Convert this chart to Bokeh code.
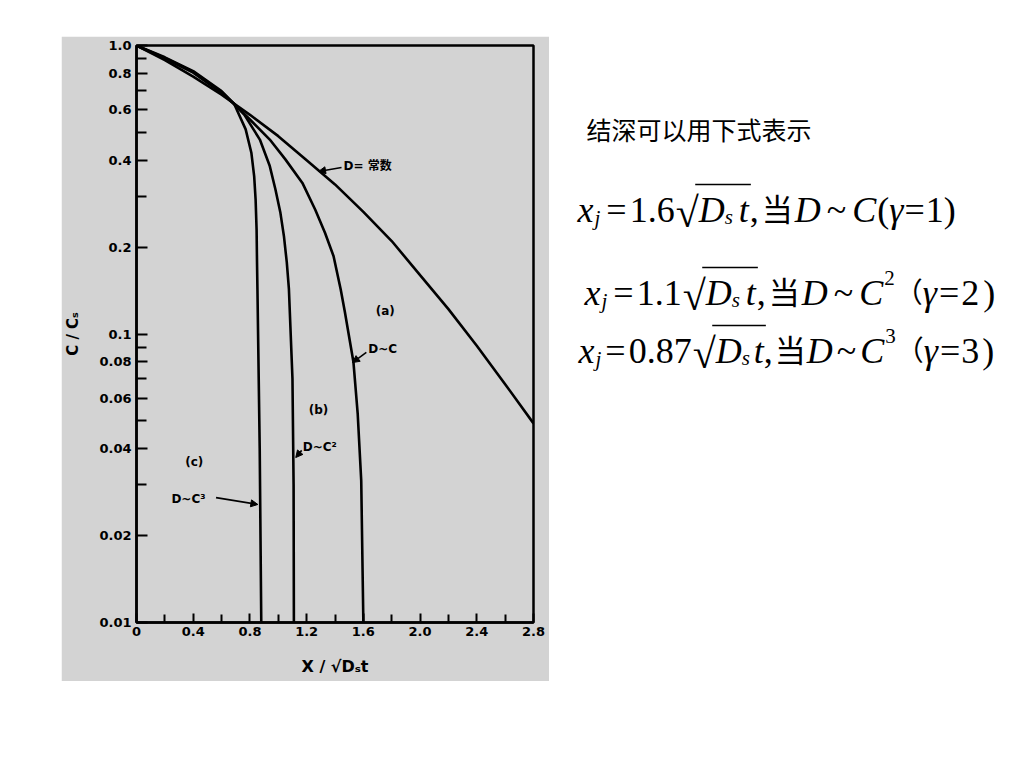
from bokeh.plotting import figure
from bokeh.layouts import row, column
from bokeh.models import (Range1d, FixedTicker, Arrow, NormalHead, Spacer,
                          ColumnDataSource, CustomJSTickFormatter)
from bokeh.core.properties import value
from bokeh.embed import file_html
from bokeh.resources import INLINE

# ---------------- data ----------------
# D = constant (erfc-like profile)
const_x = [0, 0.2, 0.4, 0.6, 0.8, 1.0, 1.2, 1.4, 1.6, 1.8, 2.0, 2.2, 2.4, 2.6, 2.8]
const_c = [1.0, 0.89, 0.78, 0.675, 0.575, 0.485, 0.40, 0.33, 0.265, 0.21, 0.16, 0.122, 0.091, 0.067, 0.049]

# (a) D ~ C
a_x = [0, 0.2, 0.4, 0.6, 0.68, 0.8, 0.94, 1.05, 1.17, 1.26, 1.33, 1.39, 1.44, 1.47, 1.53, 1.56, 1.585, 1.60]
a_c = [1.0, 0.90, 0.805, 0.685, 0.632, 0.554, 0.472, 0.403, 0.334, 0.270, 0.224, 0.186, 0.143, 0.119, 0.080, 0.053, 0.031, 0.01]

# (b) D ~ C^2
b_x = [0, 0.2, 0.4, 0.6, 0.68, 0.76, 0.87, 0.94, 0.98, 1.015, 1.04, 1.06, 1.075, 1.10, 1.108, 1.11]
b_c = [1.0, 0.905, 0.81, 0.69, 0.634, 0.576, 0.472, 0.382, 0.317, 0.263, 0.218, 0.177, 0.143, 0.07, 0.03, 0.01]

# (c) D ~ C^3
c_x = [0, 0.2, 0.4, 0.6, 0.69, 0.77, 0.81, 0.83, 0.84, 0.847, 0.85, 0.853, 0.869, 0.88]
c_c = [1.0, 0.91, 0.815, 0.695, 0.626, 0.512, 0.425, 0.352, 0.293, 0.230, 0.177, 0.143, 0.040, 0.01]

y_ticks = [0.01, 0.02, 0.04, 0.06, 0.08, 0.1, 0.2, 0.4, 0.6, 0.8, 1.0]
y_minor = [0.03, 0.05, 0.07, 0.09, 0.3, 0.5, 0.7, 0.9]
x_ticks = [0, 0.4, 0.8, 1.2, 1.6, 2.0, 2.4, 2.8]
x_minor = [0.2, 0.6, 1.0, 1.4, 1.8, 2.2, 2.6]

GREY = "#d3d3d3"
LBL_FONT = "DejaVu Sans, Noto Sans CJK SC"

# ---------------- chart ----------------
p = figure(width=488, height=645, y_axis_type="log",
           x_range=Range1d(0, 2.8), y_range=Range1d(0.01, 1.0),
           output_backend="svg", toolbar_location=None,
           min_border_left=73, min_border_right=16, min_border_top=9, min_border_bottom=59)
p.background_fill_color = GREY
p.border_fill_color = GREY
p.outline_line_color = "black"
p.outline_line_width = 2.5
p.xgrid.visible = False
p.ygrid.visible = False

for xs, cs in [(const_x, const_c), (a_x, a_c), (b_x, b_c), (c_x, c_c)]:
    p.line(xs, cs, line_color="black", line_width=2.6)

p.yaxis.ticker = FixedTicker(ticks=y_ticks, minor_ticks=y_minor)
p.xaxis.ticker = FixedTicker(ticks=x_ticks, minor_ticks=x_minor)
p.yaxis.formatter = CustomJSTickFormatter(code="return tick == 1 ? '1.0' : tick.toString();")
p.xaxis.formatter = CustomJSTickFormatter(code="return tick == 0 ? '0' : tick.toFixed(1);")

for ax in (p.xaxis[0], p.yaxis[0]):
    ax.axis_line_width = 2.5
    ax.axis_line_color = "black"
    ax.major_tick_out = 0
    ax.minor_tick_out = 0
    ax.major_tick_line_width = 2
    ax.minor_tick_line_width = 2
    ax.major_label_text_font = "DejaVu Sans"
    ax.major_label_text_font_style = "bold"
    ax.major_label_text_font_size = "13px"
    ax.major_label_text_color = "black"
    ax.axis_label_text_font = "DejaVu Sans"
    ax.axis_label_text_font_style = "bold"
    ax.axis_label_text_color = "black"

p.yaxis.major_tick_in = 11
p.yaxis.minor_tick_in = 10
p.xaxis.major_tick_in = 9
p.xaxis.minor_tick_in = 8
p.yaxis.major_label_standoff = 5
p.xaxis.major_label_standoff = 4
p.yaxis.axis_label = "C / Cₛ"
p.xaxis.axis_label = "X / √Dₛt"
p.yaxis.axis_label_text_font_size = "15px"
p.xaxis.axis_label_text_font_size = "16px"
p.yaxis.axis_label_standoff = 14
p.xaxis.axis_label_standoff = 18

# curve annotations
ann = ColumnDataSource(dict(
    x=[1.46, 1.754, 1.635, 1.284, 1.172, 0.407, 0.246],
    y=[0.381, 0.1197, 0.0884, 0.0547, 0.0407, 0.0359, 0.0267],
    t=["D= 常数", "(a)", "D~C", "(b)", "D~C²", "(c)", "D~C³"],
    align=["left", "center", "left", "center", "left", "center", "left"],
))
p.text(x="x", y="y", text="t", source=ann, text_align="align", text_baseline="middle",
       text_font=value(LBL_FONT), text_font_style="bold", text_font_size="12px",
       text_color="black")

for (xs, ys, xe, ye) in [(1.446, 0.3776, 1.284, 0.366),
                         (1.621, 0.0863, 1.523, 0.0796),
                         (1.165, 0.0395, 1.123, 0.0373),
                         (0.561, 0.0271, 0.856, 0.02565)]:
    p.add_layout(Arrow(x_start=xs, y_start=ys, x_end=xe, y_end=ye, line_width=1.6,
                       end=NormalHead(size=7, fill_color="black", line_color="black")))

# ---------------- text panel (page coordinates) ----------------
t = figure(width=459, height=645, x_range=Range1d(550, 1009), y_range=Range1d(623, 46),
           x_axis_type=None, y_axis_type=None, output_backend="svg", toolbar_location=None,
           min_border_left=0, min_border_right=0, min_border_top=9, min_border_bottom=59)
t.outline_line_color = None
t.xgrid.visible = False
t.ygrid.visible = False

SERIF = "Liberation Serif"
CJK = "Noto Sans CJK SC"

t.text(x=[587], y=[129], text=["结深可以用下式表示"], text_font=value(CJK),
       text_font_size="25px", text_color="black", text_baseline="alphabetic")

# approximate advance widths (em) used to lay the formula pieces side by side
IT_W = {"x": .444, "j": .278, "D": .722, "s": .389, "t": .278, "C": .667, "γ": .42}
RM_W = {"=": .564, ".": .25, ",": .25, "~": .541, "(": .333, ")": .333, "√": .549, " ": .25}

def adv(s, kind, size):
    if kind == "cjk":
        return len(s) * size
    tot = 0.0
    for ch in s:
        if kind == "it":
            tot += IT_W.get(ch, .5)
        else:
            tot += RM_W.get(ch, .5)
    return tot * size

pieces = []   # (text, x, y, size, font, style)
bars = []     # radical overbars (x0, x1, y)

def layout_line(x0, base, parts):
    x = x0
    rad_x = None
    for (s, kind, size, dy, gap) in parts:
        x += gap
        font = CJK if kind == "cjk" else SERIF
        style = "italic" if kind == "it" else "normal"
        pieces.append((s, x, base + dy, size, font, style))
        w = adv(s, kind, size)
        if s == "√":
            rad_x = x + 0.85 * w
        if s == "t" and rad_x is not None:
            bars.append((rad_x, x + w + 2, base - 25))
            rad_x = None
        x += w

S, SUB, RAD, PAR = 36, 21, 42, 28
layout_line(578, 210, [
    ("x", "it", S, 0, 0), ("j", "it", SUB, 8, 1), ("=", "rm", S, 0, 6),
    ("1.6", "rm", S, 0, 3), ("√", "rm", RAD, 3, 1), ("D", "it", S, 0, 0),
    ("s", "it", SUB, 7, 0), ("t", "it", S, 0, 6), (",", "rm", S, 0, 1),
    ("当", "cjk", 31, -2, 3), ("D", "it", S, 0, 2), ("~", "rm", S, 0, 6),
    ("C", "it", S, 0, 6), ("(", "rm", S, 0, 1), ("γ", "it", S, 0, 0),
    ("=", "rm", S, 0, 0), ("1", "rm", S, 0, 1), (")", "rm", S, 0, 0),
])
layout_line(585, 293, [
    ("x", "it", S, 0, 0), ("j", "it", SUB, 8, 1), ("=", "rm", S, 0, 6),
    ("1.1", "rm", S, 0, 3), ("√", "rm", RAD, 3, 1), ("D", "it", S, 0, 0),
    ("s", "it", SUB, 7, 0), ("t", "it", S, 0, 6), (",", "rm", S, 0, 1),
    ("当", "cjk", 31, -2, 3), ("D", "it", S, 0, 2), ("~", "rm", S, 0, 6),
    ("C", "it", S, 0, 6), ("2", "rm", SUB, -15, 1), ("（", "cjk", PAR, -2, 0),
    ("γ", "it", S, 0, 0), ("=", "rm", S, 0, 1), ("2", "rm", S, 0, 2),
    (")", "rm", S, 0, 4),
])
layout_line(579, 351, [
    ("x", "it", S, 0, 0), ("j", "it", SUB, 8, 1), ("=", "rm", S, 0, 4),
    ("0.87", "rm", S, 0, 3), ("√", "rm", RAD, 3, 1), ("D", "it", S, 0, 0),
    ("s", "it", SUB, 7, 0), ("t", "it", S, 0, 4), (",", "rm", S, 0, 0),
    ("当", "cjk", 31, -2, 2), ("D", "it", S, 0, 1), ("~", "rm", S, 0, 4),
    ("C", "it", S, 0, 4), ("3", "rm", SUB, -15, 1), ("（", "cjk", PAR, -2, 0),
    ("γ", "it", S, 0, 0), ("=", "rm", S, 0, 1), ("3", "rm", S, 0, 1),
    (")", "rm", S, 0, 3),
])

src = ColumnDataSource(dict(
    x=[q[1] for q in pieces], y=[q[2] for q in pieces], text=[q[0] for q in pieces],
    size=[f"{q[3]}px" for q in pieces], font=[q[4] for q in pieces],
    style=[q[5] for q in pieces]))
t.text(x="x", y="y", text="text", source=src, text_font_size="size",
       text_font="font", text_font_style="style", text_color="black",
       text_baseline="alphabetic", text_align="left")

t.segment(x0=[b[0] for b in bars], y0=[b[2] for b in bars],
          x1=[b[1] for b in bars], y1=[b[2] for b in bars],
          line_color="black", line_width=1.5)

layout = column(Spacer(height=36), row(Spacer(width=61), p, t))
open("out.html", "w").write(file_html(layout, INLINE))
